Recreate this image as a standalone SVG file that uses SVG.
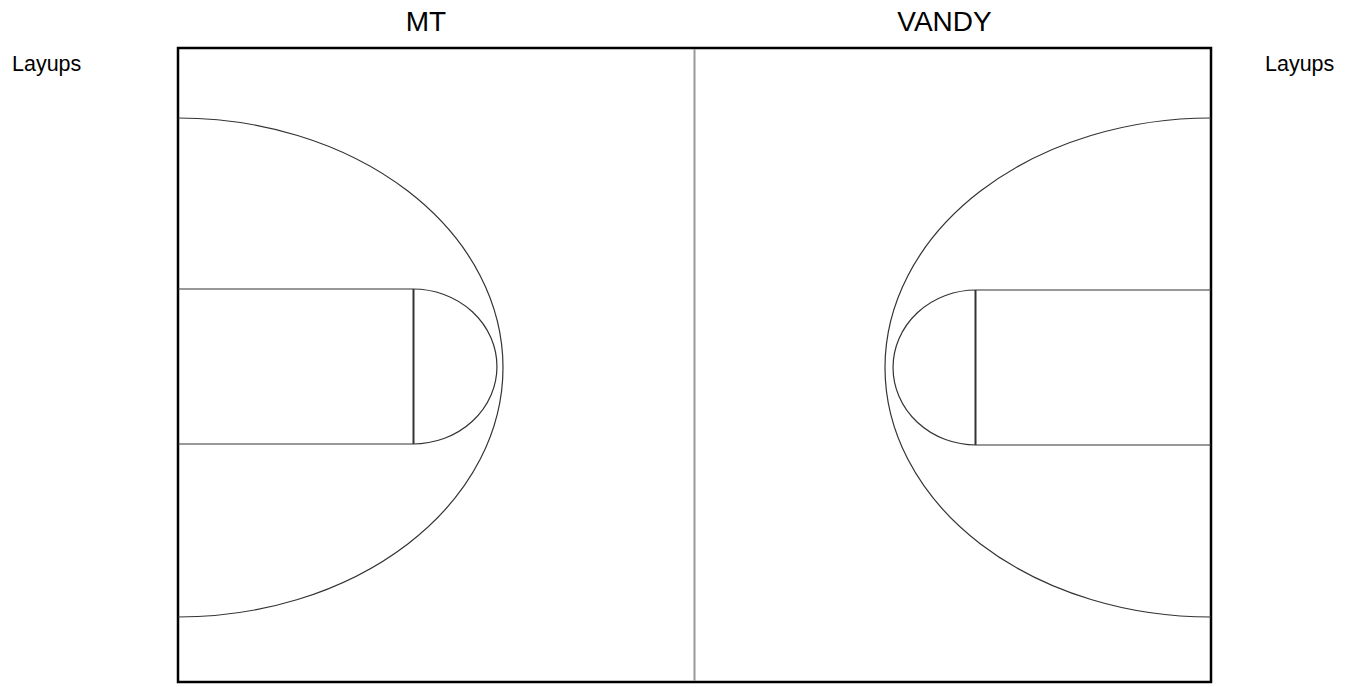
<svg xmlns="http://www.w3.org/2000/svg" width="1348" height="687" viewBox="0 0 1348 687">
<style>
.t{font-family:"Liberation Sans",Arial,sans-serif;fill:#000}
.title{font-size:28px}
.lab{font-size:21.5px}
.line{fill:none;stroke:#333;stroke-width:1.2}
.ft{fill:none;stroke:#333;stroke-width:2}
</style>
<rect width="1348" height="687" fill="#fff"/>
<g id="court">
<rect x="178" y="48" width="1033" height="634" fill="#fff" stroke="#000" stroke-width="2.5"/>
<line x1="694.5" y1="49" x2="694.5" y2="681" stroke="#999" stroke-width="2"/>
</g>
<g id="left-half">
<path class="line" d="M178,118 A325,249.5 0 0 1 178,617"/>
<path class="line" d="M178,289 H413 M178,444 H413"/>
<line class="ft" x1="413.5" y1="289" x2="413.5" y2="444"/>
<path class="line" d="M413,289 A84,77.5 0 0 1 413,444"/>
</g>
<g id="right-half">
<path class="line" d="M1211,118 A326,249.5 0 0 0 1211,617"/>
<path class="line" d="M976,290 H1211 M976,445 H1211"/>
<line class="ft" x1="975.5" y1="290" x2="975.5" y2="445"/>
<path class="line" d="M976,290 A83,77.5 0 0 0 976,445"/>
</g>
<g id="labels">
<text class="t title" x="426" y="31" text-anchor="middle">MT</text>
<text class="t title" x="944.5" y="31" text-anchor="middle">VANDY</text>
<text class="t lab" x="12" y="71">Layups</text>
<text class="t lab" x="1265" y="71">Layups</text>
</g>
</svg>
